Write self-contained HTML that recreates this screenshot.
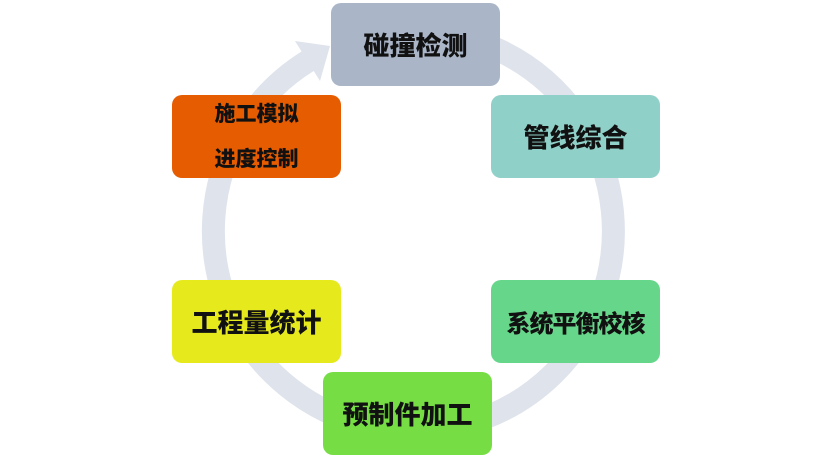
<!DOCTYPE html>
<html><head><meta charset="utf-8"><style>
body{margin:0;width:833px;height:459px;background:#fff;position:relative;overflow:hidden;font-family:"Liberation Sans","Noto Sans CJK SC",sans-serif;}
.b{position:absolute;width:169px;height:83px;border-radius:10px;display:flex;align-items:center;justify-content:center;font-weight:900;font-size:26px;color:#111;text-align:center;}
</style></head><body>
<svg width="833" height="459" style="position:absolute;left:0;top:0">
<path d="M416 31 A200 200 0 1 1 308 61" fill="none" stroke="#dfe3ec" stroke-width="23"/>
<polygon points="295,41 320,81 330,46" fill="#dfe3ec"/>
</svg>
<div class="b" style="left:331px;top:3px;background:#aab6c8">碰撞检测</div>
<div class="b" style="left:491px;top:95px;background:#8fd0c8">管线综合</div>
<div class="b" style="left:491px;top:280px;background:#66d68a;font-size:24px;letter-spacing:-1px">系统平衡校核</div>
<div class="b" style="left:323px;top:372px;background:#76de44">预制件加工</div>
<div class="b" style="left:172px;top:280px;background:#e6ea1c">工程量统计</div>
<div class="b" style="left:172px;top:95px;background:#e65c00;font-size:21px;flex-direction:column"><div style="line-height:45px">施工模拟</div><div style="line-height:45px">进度控制</div></div>
</body></html>
